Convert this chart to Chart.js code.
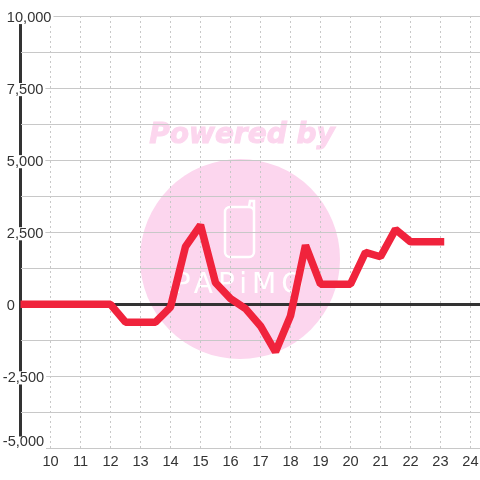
<!DOCTYPE html>
<html>
<head>
<meta charset="utf-8">
<style>
html, body { margin: 0; padding: 0; background: #fff; }
canvas { display: block; }
</style>
<script src="https://cdn.jsdelivr.net/npm/chart.js@4"></script>
</head>
<body>
<canvas id="chartCanvas" width="480" height="480"></canvas>
<script>
const hours = [9, 9.5, 10, 10.5, 11, 11.5, 12, 12.5, 13, 13.5, 14, 14.5, 15, 15.5, 16, 16.5, 17, 17.5, 18, 18.5, 19, 19.5, 20, 20.5, 21, 21.5, 22, 22.5, 23];
const values = [0, 0, 0, 0, 0, 0, 0, -620, -620, -620, -100, 2000, 2750, 750, 200, -150, -750, -1650, -400, 2050, 700, 700, 700, 1800, 1650, 2600, 2170, 2170, 2170];
const hourTicks = [9, 10, 11, 12, 13, 14, 15, 16, 17, 18, 19, 20, 21, 22, 23, 24];
const valueTicks = [-5000, -3750, -2500, -1250, 0, 1250, 2500, 3750, 5000, 6250, 7500, 8750, 10000];
const labelledValues = [-2500, 0, 2500, 5000, 7500, 10000];
const bottomValue = -5000;

const FONT = { family: '"Liberation Sans", Arial, sans-serif', size: 14.6, lineHeight: 0.9 };

// watermark behind the grid
const watermark = {
    id: 'watermark',
    beforeDraw(chart) {
        const c = chart.ctx;
        c.save();
        c.fillStyle = '#fff';
        c.fillRect(0, 0, 480, 480);
        c.fillStyle = '#fcd6ee';
        c.strokeStyle = '#fcd6ee';
        c.beginPath();
        c.arc(240, 259, 100, 0, Math.PI * 2);
        c.fill();
        c.font = 'italic bold 28px "DejaVu Sans"';
        c.textAlign = 'center';
        c.textBaseline = 'middle';
        c.lineWidth = 1;
        c.fillText('Powered by', 242, 136);
        c.strokeText('Powered by', 242, 136);
        c.strokeStyle = '#fff';
        c.lineWidth = 2.5;
        c.lineCap = 'round';
        c.beginPath();
        c.roundRect(225, 207, 29, 50, 5);
        c.moveTo(249, 207);
        c.lineTo(250, 201);
        c.lineTo(254, 201);
        c.lineTo(254, 212);
        c.stroke();
        c.fillStyle = '#fff';
        c.font = '28px "DejaVu Sans"';
        c.letterSpacing = '5px';
        c.fillText('PAPiMO', 241, 286);
        c.restore();
    }
};

// the bottom label sits above its gridline so it stays clear of the hour labels
const bottomLabel = {
    id: 'bottomLabel',
    afterDraw(chart) {
        const c = chart.ctx;
        const y = chart.scales.y.getPixelForValue(bottomValue);
        c.save();
        c.fillStyle = '#fff';
        c.fillRect(2, y - 12, 44, 13);
        c.fillStyle = '#333';
        c.font = FONT.size + 'px "Liberation Sans"';
        c.textBaseline = 'middle';
        c.fillText(bottomValue.toLocaleString('en-US'), 2.8, y - 6.5);
        c.restore();
    }
};

new Chart(document.getElementById('chartCanvas').getContext('2d'), {
    type: 'line',
    plugins: [watermark, bottomLabel],
    data: {
        labels: hours,
        datasets: [{
            data: values,
            borderColor: '#f0233c',
            borderWidth: 7.5,
            borderJoinStyle: 'bevel',
            borderCapStyle: 'square',
            pointRadius: 0,
            tension: 0,
            fill: false
        }]
    },
    options: {
        responsive: false,
        animation: false,
        layout: { padding: { top: 16, right: 0, bottom: 0, left: 0 } },
        plugins: { legend: { display: false }, tooltip: { enabled: false } },
        scales: {
            x: {
                type: 'linear',
                min: 9,
                max: 24.317,
                afterBuildTicks(scale) {
                    scale.ticks = hourTicks.map(v => ({ value: v }));
                },
                afterFit(scale) {
                    scale.height = 31.5;
                    scale.paddingRight = 0;
                    scale.paddingLeft = 0;
                },
                border: {
                    display: false,
                    dash: ctx => ctx.tick && ctx.tick.value === 9 ? [] : [2, 3]
                },
                grid: {
                    drawTicks: false,
                    color: ctx => ctx.tick && ctx.tick.value === 9 ? '#333' : '#c8c8c8',
                    lineWidth: ctx => ctx.tick && ctx.tick.value === 9 ? 3 : 1
                },
                ticks: {
                    color: '#333',
                    font: { family: FONT.family, size: FONT.size },
                    padding: 5,
                    maxRotation: 0,
                    autoSkip: false,
                    callback: v => v === 9 ? '' : String(v)
                }
            },
            y: {
                min: -5000,
                max: 10000,
                afterBuildTicks(scale) {
                    scale.ticks = valueTicks.map(v => ({ value: v }));
                },
                afterFit(scale) { scale.width = 20.5; },
                border: { display: false },
                grid: {
                    drawTicks: false,
                    color: ctx => ctx.tick && ctx.tick.value === 0 ? '#333' : '#c8c8c8',
                    lineWidth: ctx => ctx.tick && ctx.tick.value === 0 ? 3 : 1
                },
                ticks: {
                    color: '#333',
                    font: FONT,
                    mirror: true,
                    crossAlign: 'near',
                    padding: -17.7,
                    labelOffset: 1.5,
                    autoSkip: false,
                    showLabelBackdrop: ctx => labelledValues.includes(ctx.tick.value),
                    backdropColor: '#fff',
                    backdropPadding: { left: 0, right: 2, top: 0, bottom: 0 },
                    // leading space keeps the digits lined up under the minus sign
                    callback: v => {
                        if (!labelledValues.includes(v)) return '';
                        return (v < 0 ? '' : ' ') + v.toLocaleString('en-US');
                    }
                }
            }
        }
    }
});
</script>
</body>
</html>
